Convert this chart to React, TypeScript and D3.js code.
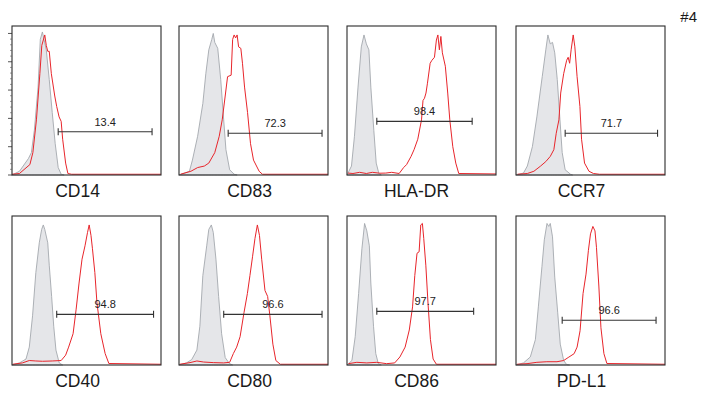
import React from 'react';
import * as d3 from 'd3';

// marker names, one per panel (row by row)
const markers = ['CD14', 'CD83', 'HLA-DR', 'CCR7', 'CD40', 'CD80', 'CD86', 'PD-L1'];
const gateLabels = ['13.4', '72.3', '98.4', '71.7', '94.8', '96.6', '97.7', '96.6'];
// gate start / end on the channel axis (0-100) and its height (% of max)
const gateFrom = [31, 33, 20, 33, 30, 30, 20, 31];
const gateTo = [94, 96, 84, 95, 95, 96, 85, 94];
const gateLevel = [29, 28, 36, 28, 34, 34, 36, 30];

// isotype control histograms [channel, % of max]
const isotype: [number, number][][] = [
  [[0, 0], [5, 2.5], [11, 11], [13, 15], [15, 30], [17.5, 59], [19, 91], [20.4, 96], [21.5, 91], [23, 84], [25, 64], [27, 42], [29, 21], [31, 5], [33, 0.5], [35, 0]],
  [[0, 0], [7, 2.5], [9, 10], [12.5, 26], [16, 48], [18, 68], [20, 84], [22, 91], [23, 95], [24, 89], [26, 85], [28, 64], [30, 37], [31.5, 17], [34, 3.5], [37, 0.5], [39, 0]],
  [[0, 0], [3, 6], [5, 26], [7.4, 59], [9.6, 86], [11.4, 94], [13, 88], [14.7, 84], [16, 59], [18, 30], [19.6, 8], [21.4, 1], [23, 0]],
  [[0, 0], [5, 1.3], [7.6, 6], [11, 19], [14, 39], [17.6, 66], [20, 84], [21.4, 94], [23, 88], [24.5, 89], [26, 82], [27.7, 64], [29.5, 37], [31, 15], [33, 3.5], [36.6, 0.5], [38, 0]],
  [[0, 0], [5, 1.4], [9.4, 4], [11.6, 12], [13.8, 33], [16, 62], [18.3, 82], [19.9, 91], [21, 94], [22, 91], [24, 82], [25, 67], [26.6, 46], [28, 26], [29.5, 10], [31.7, 1.4], [34, 0]],
  [[0, 0], [5, 1.4], [8.5, 3.6], [12, 10], [14, 26], [16, 60], [18.6, 80], [20, 91], [21.7, 94], [23, 89], [24.8, 71], [26.6, 46], [28.6, 21], [31, 5], [33.8, 1], [36, 0]],
  [[0, 0], [3.3, 3], [5.5, 19], [7.8, 48], [10, 78], [11.8, 95], [13.3, 90], [15, 80], [16, 55], [17.8, 26], [19.3, 7.7], [21, 1], [23, 0]],
  [[0, 0], [5, 1.4], [9.6, 5.4], [13, 17], [15, 39], [17.4, 66], [19, 84], [20.8, 95], [22, 93], [23, 95], [24.5, 86], [26, 59], [28, 35], [29.7, 14], [32, 3], [34, 0.3], [36, 0]],
];

// stained sample histograms [channel, % of max]
const stained: [number, number][][] = [
  [[0, 0.5], [5, 1], [12, 7], [14, 15], [16.4, 37], [18.7, 68], [20, 87], [22, 94], [23, 87], [24, 83], [25, 83], [26.4, 68], [28.7, 53], [30, 46], [31.6, 39], [33, 36], [34, 24], [36, 8], [37.5, 1], [40, 0.5], [100, 0.5]],
  [[1, 0.5], [8, 2.5], [12.5, 5], [17, 6], [20, 8], [24, 15], [27, 26], [29, 37], [31, 53], [32.6, 66], [35, 67], [36, 91], [37, 94], [38, 92], [39, 94], [40, 86], [41.5, 85], [42.6, 75], [44, 59], [46, 42], [48, 21], [50, 10], [53.8, 2.5], [56, 0.5], [100, 0.5]],
  [[0.7, 1.3], [4, 1], [8.5, 1.8], [13, 1], [17, 1.8], [22, 1.2], [26, 1.3], [30, 1.8], [35, 1], [38, 5], [40, 7], [43, 12.5], [45, 17], [47.5, 24], [50, 37], [51, 50], [52, 51.5], [53, 55], [54, 61.6], [55.8, 75], [57, 77], [58.7, 79], [60, 90.6], [61, 94], [62, 84], [63, 93], [64, 82], [66, 73], [67.6, 55], [69, 37], [71, 19], [73, 8], [75, 1], [100, 0.7]],
  [[1, 0.5], [7.6, 1], [12, 2.5], [16.5, 6], [20, 9], [23, 12.5], [25.4, 17], [27, 28], [28.8, 37], [30, 55], [32, 68], [34, 77], [35, 79], [36, 75], [37, 84], [38.4, 94], [39.5, 86], [41, 66], [42.9, 46], [44, 24], [46, 8], [49, 2.5], [52, 1], [56, 0.5], [100, 0.5]],
  [[0.5, 0.5], [7, 1.4], [11.6, 3], [16, 2.7], [20.5, 2.5], [27, 2.7], [33, 3], [36, 6.6], [38, 12], [41, 21], [43, 37], [45, 55], [47, 71], [49, 80], [50.7, 89], [51.8, 94], [53, 87], [54, 78], [55.6, 62], [57, 42], [59.6, 21], [62.5, 7.7], [65, 1], [100, 0.5]],
  [[0.5, 0.5], [7.4, 1.6], [12, 2.7], [16.5, 2], [23, 1.6], [30, 1.4], [34, 1.8], [36.5, 7.7], [38.7, 12], [41, 19], [43.6, 35], [45.9, 48], [47.6, 60], [49.4, 73], [51, 85], [52.6, 94], [54, 87], [55.5, 71], [57.7, 50], [59.5, 46], [61, 33], [63, 14], [65, 3], [68, 0.5], [100, 0.5]],
  [[1, 0.9], [6.6, 1.8], [13.3, 1.4], [20, 1.8], [26.6, 0.9], [32, 1.4], [35.5, 5.4], [39, 12], [41.8, 23.5], [44, 39], [45.5, 60], [47, 75], [48.4, 76], [49.5, 94], [50.6, 95], [51.5, 85], [52.9, 67], [54.4, 41], [56, 17], [57.8, 4], [60, 0.5], [100, 0.5]],
  [[0.7, 0.5], [7.4, 0.9], [14, 1.8], [20.7, 2.2], [27.5, 2.2], [32, 3], [35, 5], [39, 7.6], [41, 12], [43, 23], [45, 48], [47, 61], [48.6, 77], [50, 88], [51.6, 93], [53, 90], [54, 79], [55.6, 53], [57, 25], [59, 7.6], [61, 1], [100, 0.5]],
];

// left axis ticks on the first panel (% of max)
const majorTicks = [0, 19, 38, 57, 76, 95];

// layout
const colLeft = [12, 179, 347, 516];
const rowTop = [26, 216];
const panelW = 149;
const panelH = 149;
const labelDx = [-9, -4, -5, -9];
const font = "'Liberation Sans', Arial, Helvetica, sans-serif";

function Panel({ i }: { i: number }) {
  const col = i % 4;
  const row = Math.floor(i / 4);
  const x0 = colLeft[col];
  const y0 = rowTop[row];

  const x = d3.scaleLinear().domain([0, 100]).range([x0, x0 + panelW]);
  const y = d3.scaleLinear().domain([0, 100]).range([y0 + panelH, y0]);

  const area = d3
    .area<[number, number]>()
    .x((d) => x(d[0]))
    .y0(y(0))
    .y1((d) => y(d[1]));
  const line = d3
    .line<[number, number]>()
    .x((d) => x(d[0]))
    .y((d) => y(d[1]));

  const gy = y(gateLevel[i]);
  const gx1 = x(gateFrom[i]);
  const gx2 = x(gateTo[i]);

  // minor ticks between majors
  const minor: number[] = [];
  if (i === 0) {
    for (let k = 0; k < majorTicks.length - 1; k++) {
      const step = (majorTicks[k + 1] - majorTicks[k]) / 5;
      for (let m = 1; m < 5; m++) minor.push(majorTicks[k] + step * m);
    }
  }

  return (
    <g>
      <path d={area(isotype[i]) || ''} fill="#e5e6e9" stroke="#a4a8ae" strokeWidth={0.9} />
      <path d={line(stained[i]) || ''} fill="none" stroke="#e8252b" strokeWidth={1} />
      <rect x={x0} y={y0} width={panelW} height={panelH} fill="none" stroke="#2b2b2b" strokeWidth={1.1} />
      {i === 0 &&
        majorTicks.map((t) => (
          <line key={'M' + t} x1={x0 - 4} x2={x0} y1={y(t)} y2={y(t)} stroke="#2b2b2b" strokeWidth={0.8} />
        ))}
      {minor.map((t) => (
        <line key={'m' + t} x1={x0 - 2} x2={x0} y1={y(t)} y2={y(t)} stroke="#555" strokeWidth={0.6} />
      ))}
      <line x1={gx1} x2={gx2} y1={gy} y2={gy} stroke="#333" strokeWidth={1.1} />
      <line x1={gx1} x2={gx1} y1={gy - 3.5} y2={gy + 3.5} stroke="#333" strokeWidth={1.1} />
      <line x1={gx2} x2={gx2} y1={gy - 3.5} y2={gy + 3.5} stroke="#333" strokeWidth={1.1} />
      <text x={(gx1 + gx2) / 2} y={gy - 6} textAnchor="middle" fontSize={11} fill="#222" fontFamily={font}>
        {gateLabels[i]}
      </text>
      <text
        x={x0 + panelW / 2 + labelDx[col]}
        y={y0 + panelH + 22}
        textAnchor="middle"
        fontSize={17.5}
        fill="#1a1a1a"
        fontFamily={font}
      >
        {markers[i]}
      </text>
    </g>
  );
}

export default function App() {
  return (
    <svg
      width={702}
      height={398}
      style={{ position: 'absolute', left: 0, top: 0, background: '#fff' }}
    >
      {markers.map((m, i) => (
        <Panel key={m + i} i={i} />
      ))}
      <text x={697} y={22} textAnchor="end" fontSize={15} fill="#1a1a1a" fontFamily={font}>
        #4
      </text>
    </svg>
  );
}
